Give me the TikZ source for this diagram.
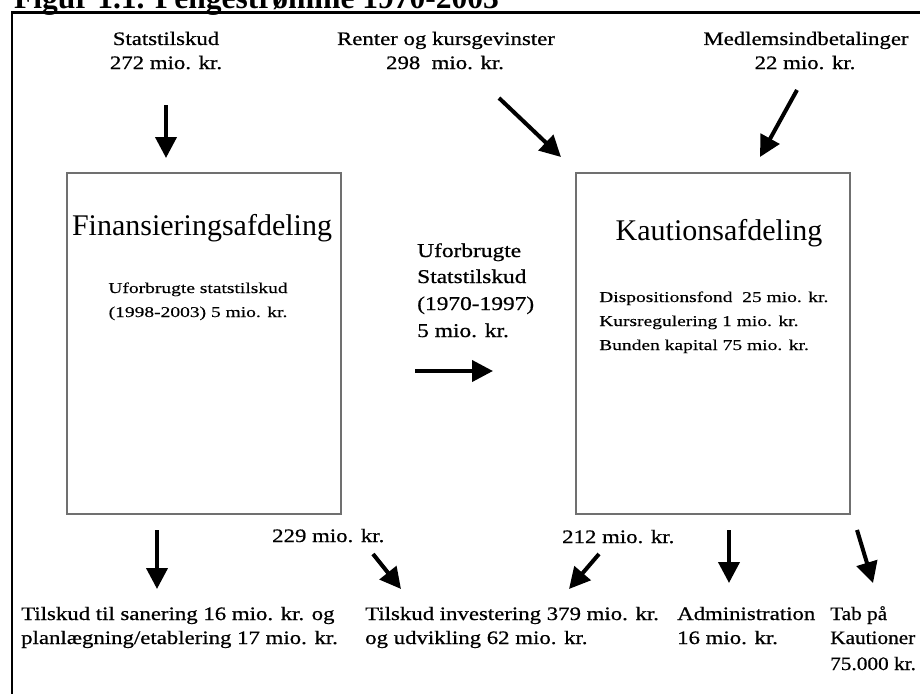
\documentclass[tikz,border=0pt]{standalone}
\usepackage{fontspec}
\setmainfont{Liberation Serif}
\newfontfamily\lblfont[FakeStretch=1.2,FakeBold=0.7]{Liberation Serif}
\newfontfamily\narrowlblfont[FakeStretch=1.12,FakeBold=0.7]{Liberation Serif}
\newfontfamily\boxfont[FakeStretch=1.3,FakeBold=0.2]{Liberation Serif}
\usetikzlibrary{arrows.meta}
\definecolor{boxgray}{HTML}{707070}
\begin{document}
\begin{tikzpicture}[x=1pt,y=-1pt,
  dept/.style={draw=boxgray, line width=2pt, minimum width=274pt, minimum height=341pt, inner sep=0},
  flow/.style={line width=4pt, -{Triangle[length=21pt,width=21pt]}},
  lbl/.style={font=\lblfont\fontsize{19}{23}\selectfont, inner sep=0},
  nlbl/.style={font=\narrowlblfont\fontsize{19}{23}\selectfont, inner sep=0},
  midlbl/.style={font=\lblfont\fontsize{19.5}{26.7}\selectfont, inner sep=0},
  boxtxt/.style={font=\boxfont\fontsize{15}{22}\selectfont, inner sep=0},
  head/.style={font=\fontsize{30}{34}\selectfont, inner sep=0},
  ttl/.style={font=\bfseries\fontsize{31.5}{34}\selectfont, inner sep=0}
]
\path[use as bounding box] (0,0) rectangle (920,693);
\clip (0,0) rectangle (920,693);
\fill[white] (0,0) rectangle (920,693);

% title (cut off at the top)
\node[ttl, anchor=base west] (title) at (14,9) {Figur 1.1. Pengestrømme 1970-2003};

% frame
\draw[line width=2.5pt] (12,700) -- (12,12.5) -- (930,12.5);

% boxes
\node[dept] (fin) at (203.5,343.5) {};
\node[dept] (kau) at (713,343.5) {};

\node[head, anchor=base] (finh) at (202,235) {Finansieringsafdeling};
\node[head, anchor=base] (kauh) at (719,240) {Kautionsafdeling};

\node[boxtxt, anchor=base] (fin1) at (198,293) {Uforbrugte statstilskud};
\node[boxtxt, anchor=base] (fin2) at (198,317) {(1998-2003) 5 mio. kr.};

\node[boxtxt, anchor=base west] (kau1) at (599,302) {Dispositionsfond\ \ 25 mio. kr.};
\node[boxtxt, anchor=base west] (kau2) at (599,326) {Kursregulering 1 mio. kr.};
\node[boxtxt, anchor=base west] (kau3) at (599,350) {Bunden kapital 75 mio. kr.};

% top labels
\node[lbl, anchor=base] (st1) at (166,45) {Statstilskud};
\node[lbl, anchor=base] (st2) at (166,69) {272 mio. kr.};
\node[lbl, anchor=base] (re1) at (446,45) {Renter og kursgevinster};
\node[lbl, anchor=base] (re2) at (445,69) {298\ \ mio. kr.};
\node[lbl, anchor=base] (me1) at (806,45) {Medlemsindbetalinger};
\node[lbl, anchor=base] (me2) at (805,69) {22 mio. kr.};

% middle label
\node[midlbl, anchor=base west] (mid1) at (417,257) {Uforbrugte};
\node[midlbl, anchor=base west] (mid2) at (417,283) {Statstilskud};
\node[midlbl, anchor=base west] (mid3) at (417,310) {(1970-1997)};
\node[midlbl, anchor=base west] (mid4) at (417,337) {5 mio. kr.};

% bottom amounts
\node[lbl, anchor=base west] (a229) at (272,542) {229 mio. kr.};
\node[lbl, anchor=base west] (a212) at (562,543) {212 mio. kr.};

% bottom labels
\node[lbl, anchor=base west] (b1) at (21,620) {Tilskud til sanering 16 mio. kr. og};
\node[lbl, anchor=base west] (b2) at (21,644) {planlægning/etablering 17 mio. kr.};
\node[lbl, anchor=base west] (c1) at (365,620) {Tilskud investering 379 mio. kr.};
\node[lbl, anchor=base west] (c2) at (365,644) {og udvikling 62 mio. kr.};
\node[lbl, anchor=base west] (d1) at (677,620) {Administration};
\node[lbl, anchor=base west] (d2) at (677,644) {16 mio. kr.};
\node[nlbl, anchor=base west] (e1) at (830,620) {Tab på};
\node[nlbl, anchor=base west] (e2) at (830,644) {Kautioner};
\node[nlbl, anchor=base west] (e3) at (830,670) {75.000 kr.};

% arrow end points
\coordinate (s0) at (166,105);  \coordinate (s1) at (166,158);
\coordinate (r0) at (499,98);   \coordinate (r1) at (561,157);
\coordinate (m0) at (797,90);   \coordinate (m1) at (760,157);
\coordinate (t0) at (415,371);  \coordinate (t1) at (493,371);
\coordinate (f0) at (157,530);  \coordinate (f1) at (157,589);
\coordinate (g0) at (373,554);  \coordinate (g1) at (401,589);
\coordinate (h0) at (599,554);  \coordinate (h1) at (569,589);
\coordinate (i0) at (729,530);  \coordinate (i1) at (729,583);
\coordinate (j0) at (857,530);  \coordinate (j1) at (873,583);

\draw[flow] (s0) -- (s1);
\draw[flow] (r0) -- (r1);
\draw[flow] (m0) -- (m1);
\draw[flow] (t0) -- (t1);
\draw[flow] (f0) -- (f1);
\draw[flow] (g0) -- (g1);
\draw[flow] (h0) -- (h1);
\draw[flow] (i0) -- (i1);
\draw[flow] (j0) -- (j1);
\end{tikzpicture}
\end{document}
